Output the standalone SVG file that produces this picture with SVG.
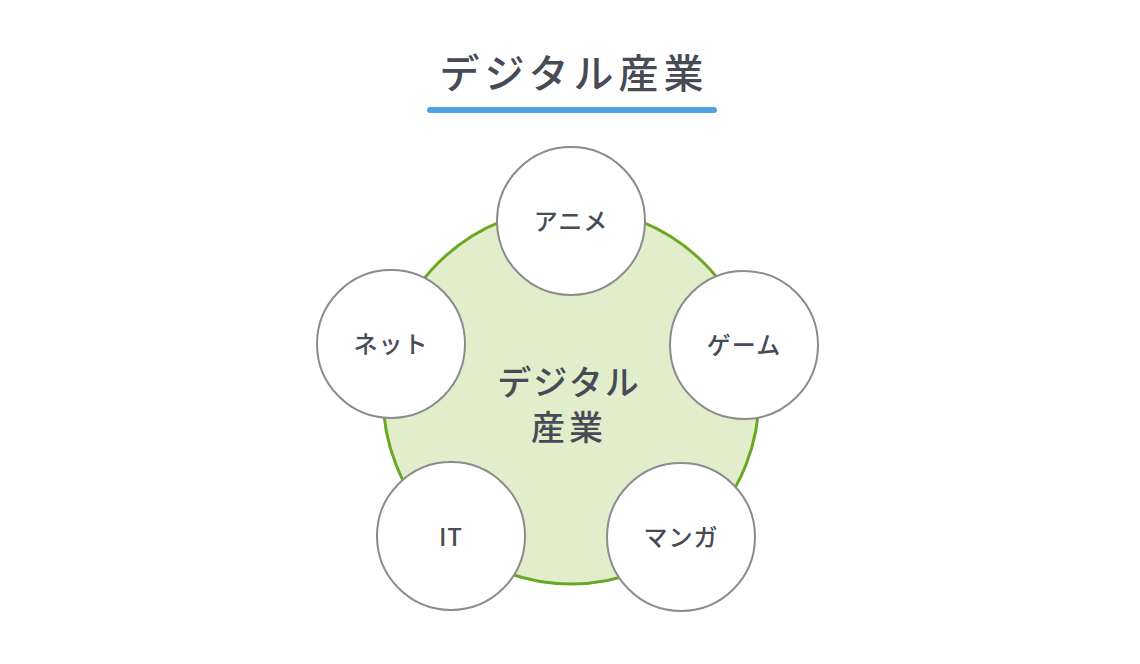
<svg xmlns="http://www.w3.org/2000/svg" width="1140" height="664" viewBox="0 0 1140 664">
<style>
text{font-family:"Noto Sans CJK JP","Noto Sans",sans-serif;fill:#474b55;text-anchor:middle;font-weight:500}
.n{fill:#fff;stroke:#8c8c8c;stroke-width:2}
.l{font-size:24px;letter-spacing:1px}
</style>
<rect width="1140" height="664" fill="#fff"/>
<g id="title"><text x="574" y="88" font-size="40" letter-spacing="5">デジタル産業</text>
<rect x="427" y="107" width="290" height="6" rx="3" fill="#4fa3e0"/></g>
<g id="center"><circle cx="571" cy="396" r="188" fill="#e2edcb" stroke="#6aa824" stroke-width="3"/>
<text x="569" y="395" font-size="34" letter-spacing="2">デジタル</text><text x="569" y="440" font-size="34" letter-spacing="4">産業</text></g>
<g id="connectors"></g>
<g id="anime"><circle class="n" cx="571" cy="221" r="74"/><text class="l" x="571" y="230">アニメ</text></g>
<g id="game"><circle class="n" cx="744" cy="345" r="74"/><text class="l" x="744" y="354">ゲーム</text></g>
<g id="net"><circle class="n" cx="391" cy="344" r="74"/><text class="l" x="391" y="353">ネット</text></g>
<g id="it"><circle class="n" cx="451" cy="536" r="74"/><text class="l" x="451" y="546" font-size="28">IT</text></g>
<g id="manga"><circle class="n" cx="681" cy="537" r="74"/><text class="l" x="681" y="546">マンガ</text></g>
</svg>
